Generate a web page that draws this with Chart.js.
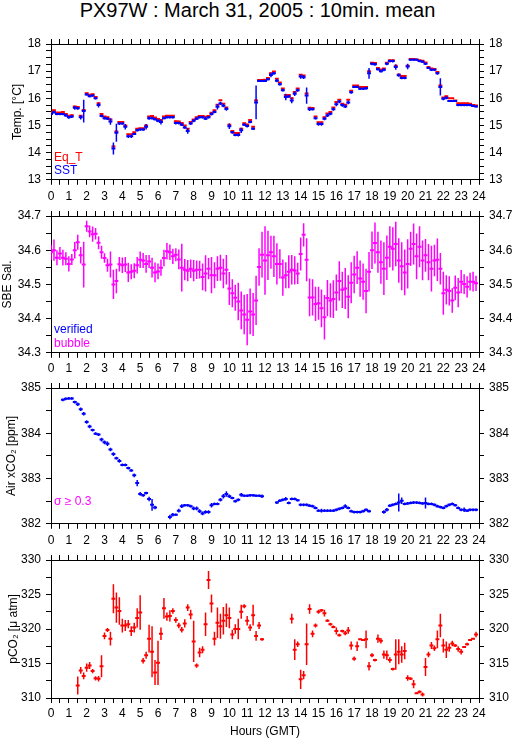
<!DOCTYPE html>
<html>
<head>
<meta charset="utf-8">
<script src="https://cdn.jsdelivr.net/npm/chart.js@4.4.1/dist/chart.umd.min.js"></script>
<style>
	body { margin: 0; background: #fff; width: 515px; height: 739px; position: relative; overflow: hidden; font-family: "Liberation Sans", Arial, sans-serif; }
	#title { position: absolute; left: 0; top: -2px; width: 515px; text-align: center; font-size: 20px; line-height: 24px; color: #000; }
	canvas { position: absolute; left: 0; }
</style>
</head>
<body>
<div id="title">PX97W : March 31, 2005 : 10min. mean</div>
<canvas id="c-temp" width="515" height="192" style="top:0px"></canvas>
<canvas id="c-sal" width="515" height="179" style="top:186px"></canvas>
<canvas id="c-air" width="515" height="178" style="top:358px"></canvas>
<canvas id="c-pco2" width="515" height="209" style="top:530px"></canvas>
<script>
'use strict';

// 10 minute bins, one row per hour
var hours = [];
for (var k = 0; k < 144; k++) { hours.push(k / 6); }

var sst = [
	15.42, 15.49, 15.42, 15.42, 15.42, 15.37,
	15.30, 15.33, 15.65, 15.63, 15.30, 15.53,
	16.14, 16.08, 16.10, 16.00, 15.75, 15.35,
	15.27, 15.25, 15.15, 14.15, 14.73, 15.07,
	15.07, 14.95, 14.60, 14.60, 14.69, 14.82,
	14.85, 14.85, 14.95, 15.27, 15.27, 15.23,
	15.17, 15.13, 15.27, 15.30, 15.30, 15.30,
	15.09, 15.09, 15.03, 14.93, 14.80, 15.07,
	15.17, 15.25, 15.30, 15.30, 15.25, 15.30,
	15.42, 15.50, 15.69, 15.81, 15.73, 15.61,
	14.97, 14.75, 14.65, 14.65, 14.82, 15.03,
	14.98, 15.13, 14.88, 15.85, 16.64, 16.64,
	16.64, 16.70, 16.86, 16.92, 16.65, 16.52,
	16.30, 16.05, 16.07, 15.92, 16.17, 16.30,
	16.80, 16.78, 16.10, 15.60, 15.60, 15.27,
	15.05, 15.05, 15.25, 15.37, 15.43, 15.60,
	15.78, 15.88, 15.75, 15.70, 15.85, 16.22,
	16.42, 16.42, 16.35, 16.35, 16.37, 16.92,
	17.27, 17.25, 17.07, 17.00, 17.05, 17.27,
	17.37, 17.37, 17.15, 16.85, 16.75, 16.75,
	17.17, 17.42, 17.42, 17.42, 17.37, 17.35,
	17.27, 17.12, 17.05, 17.05, 16.92, 16.42,
	15.98, 16.02, 15.90, 15.90, 15.90, 15.75,
	15.75, 15.75, 15.75, 15.75, 15.72, 15.70
];
var sstSd = [
	0.05, 0.05, 0.04, 0.04, 0.04, 0.05,
	0.05, 0.05, 0.07, 0.05, 0.08, 0.42,
	0.04, 0.04, 0.04, 0.04, 0.09, 0.05,
	0.05, 0.05, 0.12, 0.22, 0.33, 0.05,
	0.04, 0.10, 0.06, 0.06, 0.04, 0.04,
	0.04, 0.04, 0.10, 0.06, 0.05, 0.05,
	0.05, 0.09, 0.04, 0.04, 0.04, 0.04,
	0.05, 0.05, 0.05, 0.05, 0.10, 0.05,
	0.05, 0.05, 0.04, 0.04, 0.05, 0.04,
	0.05, 0.05, 0.10, 0.06, 0.06, 0.07,
	0.10, 0.05, 0.05, 0.06, 0.10, 0.05,
	0.05, 0.05, 0.05, 0.62, 0.04, 0.04,
	0.04, 0.04, 0.08, 0.05, 0.06, 0.05,
	0.05, 0.12, 0.05, 0.10, 0.08, 0.06,
	0.08, 0.07, 0.30, 0.07, 0.05, 0.05,
	0.06, 0.06, 0.06, 0.06, 0.05, 0.06,
	0.07, 0.06, 0.06, 0.06, 0.07, 0.05,
	0.04, 0.04, 0.04, 0.04, 0.05, 0.20,
	0.05, 0.05, 0.05, 0.05, 0.05, 0.05,
	0.05, 0.05, 0.10, 0.06, 0.05, 0.05,
	0.10, 0.04, 0.04, 0.04, 0.04, 0.04,
	0.04, 0.04, 0.04, 0.04, 0.05, 0.32,
	0.05, 0.05, 0.04, 0.04, 0.04, 0.04,
	0.04, 0.04, 0.04, 0.04, 0.04, 0.04
];
var eqT = [
	15.49, 15.56, 15.48, 15.48, 15.50, 15.42,
	15.36, 15.38, 15.70, 15.68, 15.36, 15.57,
	16.19, 16.13, 16.15, 16.05, 15.82, 15.42,
	15.33, 15.30, 15.22, 14.23, 14.78, 15.13,
	15.13, 15.00, 14.68, 14.68, 14.75, 14.88,
	14.90, 14.90, 15.00, 15.33, 15.35, 15.29,
	15.24, 15.20, 15.33, 15.36, 15.36, 15.36,
	15.16, 15.15, 15.09, 15.00, 14.88, 15.13,
	15.22, 15.30, 15.35, 15.35, 15.32, 15.35,
	15.47, 15.56, 15.76, 15.93, 15.80, 15.66,
	15.03, 14.80, 14.72, 14.72, 14.88, 15.08,
	15.04, 15.20, 14.95, 15.92, 16.67, 16.67,
	16.68, 16.75, 16.92, 16.99, 16.72, 16.58,
	16.36, 16.12, 16.12, 16.00, 16.23, 16.36,
	16.87, 16.84, 16.18, 15.65, 15.64, 15.33,
	15.12, 15.12, 15.30, 15.44, 15.50, 15.66,
	15.86, 15.95, 15.80, 15.76, 15.95, 16.28,
	16.47, 16.47, 16.42, 16.42, 16.42, 17.00,
	17.31, 17.30, 17.12, 17.06, 17.10, 17.31,
	17.40, 17.40, 17.20, 16.88, 16.82, 16.82,
	17.20, 17.45, 17.45, 17.43, 17.40, 17.38,
	17.32, 17.15, 17.10, 17.08, 16.97, 16.47,
	16.03, 16.08, 16.00, 16.00, 15.92, 15.82,
	15.82, 15.82, 15.82, 15.80, 15.75, 15.74
];
var eqTSd = [
	0.02, 0.02, 0.02, 0.02, 0.02, 0.02,
	0.02, 0.02, 0.03, 0.02, 0.03, 0.04,
	0.02, 0.02, 0.02, 0.02, 0.03, 0.02,
	0.02, 0.02, 0.03, 0.05, 0.05, 0.02,
	0.02, 0.03, 0.02, 0.02, 0.02, 0.02,
	0.02, 0.02, 0.03, 0.02, 0.02, 0.02,
	0.02, 0.02, 0.02, 0.02, 0.02, 0.02,
	0.02, 0.02, 0.02, 0.02, 0.03, 0.02,
	0.02, 0.02, 0.02, 0.02, 0.02, 0.02,
	0.02, 0.02, 0.03, 0.02, 0.02, 0.02,
	0.03, 0.02, 0.02, 0.02, 0.02, 0.02,
	0.02, 0.02, 0.02, 0.04, 0.02, 0.02,
	0.02, 0.02, 0.02, 0.02, 0.02, 0.02,
	0.02, 0.03, 0.02, 0.03, 0.02, 0.02,
	0.02, 0.02, 0.04, 0.02, 0.02, 0.02,
	0.02, 0.02, 0.02, 0.02, 0.02, 0.02,
	0.02, 0.02, 0.02, 0.02, 0.02, 0.02,
	0.02, 0.02, 0.02, 0.02, 0.02, 0.04,
	0.02, 0.02, 0.02, 0.02, 0.02, 0.02,
	0.02, 0.02, 0.03, 0.02, 0.02, 0.02,
	0.03, 0.02, 0.02, 0.02, 0.02, 0.02,
	0.02, 0.02, 0.02, 0.02, 0.02, 0.04,
	0.02, 0.02, 0.02, 0.02, 0.02, 0.02,
	0.02, 0.02, 0.02, 0.02, 0.02, 0.02
];

var sal = [
	34.594, 34.600, 34.578, 34.590, 34.578, 34.575,
	34.560, 34.573, 34.600, 34.623, 34.585, 34.558,
	34.670, 34.655, 34.647, 34.648, 34.622, 34.594,
	34.577, 34.556, 34.558, 34.500, 34.510, 34.559,
	34.556, 34.558, 34.535, 34.537, 34.540, 34.556,
	34.572, 34.570, 34.560, 34.567, 34.549, 34.535,
	34.538, 34.549, 34.577, 34.597, 34.594, 34.582,
	34.587, 34.573, 34.549, 34.543, 34.540, 34.546,
	34.540, 34.543, 34.543, 34.522, 34.532, 34.546,
	34.527, 34.527, 34.546, 34.549, 34.532, 34.543,
	34.488, 34.474, 34.461, 34.450, 34.424, 34.412,
	34.397, 34.421, 34.412, 34.453, 34.551, 34.587,
	34.570, 34.585, 34.594, 34.582, 34.560, 34.560,
	34.520, 34.527, 34.537, 34.543, 34.541, 34.532,
	34.589, 34.645, 34.572, 34.462, 34.462, 34.443,
	34.445, 34.430, 34.404, 34.460, 34.453, 34.457,
	34.476, 34.510, 34.484, 34.488, 34.464, 34.505,
	34.529, 34.549, 34.517, 34.508, 34.481, 34.537,
	34.600, 34.621, 34.594, 34.565, 34.546, 34.578,
	34.610, 34.604, 34.618, 34.570, 34.553, 34.535,
	34.560, 34.604, 34.618, 34.582, 34.610, 34.570,
	34.585, 34.565, 34.546, 34.570, 34.572, 34.546,
	34.474, 34.484, 34.481, 34.453, 34.490, 34.476,
	34.508, 34.501, 34.493, 34.508, 34.508, 34.503
];
var salSd = [
	0.022, 0.031, 0.022, 0.019, 0.023, 0.019,
	0.022, 0.016, 0.024, 0.022, 0.024, 0.067,
	0.016, 0.017, 0.022, 0.017, 0.019, 0.019,
	0.014, 0.019, 0.038, 0.043, 0.036, 0.021,
	0.023, 0.022, 0.028, 0.022, 0.022, 0.024,
	0.024, 0.022, 0.026, 0.019, 0.029, 0.029,
	0.023, 0.024, 0.024, 0.024, 0.023, 0.022,
	0.019, 0.029, 0.070, 0.031, 0.031, 0.027,
	0.031, 0.027, 0.026, 0.039, 0.053, 0.031,
	0.053, 0.038, 0.036, 0.038, 0.043, 0.043,
	0.048, 0.041, 0.038, 0.055, 0.055, 0.058,
	0.075, 0.067, 0.063, 0.072, 0.055, 0.067,
	0.100, 0.072, 0.048, 0.060, 0.060, 0.043,
	0.053, 0.038, 0.048, 0.043, 0.041, 0.031,
	0.048, 0.034, 0.063, 0.055, 0.053, 0.050,
	0.048, 0.055, 0.065, 0.053, 0.050, 0.055,
	0.053, 0.058, 0.053, 0.060, 0.063, 0.060,
	0.055, 0.048, 0.053, 0.053, 0.065, 0.058,
	0.055, 0.060, 0.060, 0.063, 0.077, 0.065,
	0.060, 0.063, 0.065, 0.065, 0.070, 0.067,
	0.072, 0.050, 0.060, 0.067, 0.060, 0.058,
	0.048, 0.053, 0.067, 0.046, 0.062, 0.046,
	0.063, 0.043, 0.043, 0.036, 0.036, 0.043,
	0.034, 0.029, 0.031, 0.026, 0.029, 0.022
];

var airCo2 = [
	null, null, null, null, 384.74, 384.76,
	384.77, 384.77, 384.69, 384.64, 384.53, 384.43,
	384.25, 384.15, 384.07, 383.99, 383.97, 383.86,
	383.80, 383.77, 383.64, 383.54, 383.45, 383.39,
	383.30, 383.30, 383.23, 383.18, 383.07, 382.90,
	382.66, 382.63, 382.68, 382.55, 382.42, 382.36,
	null, null, null, null, 382.15, 382.20,
	382.20, 382.29, 382.39, 382.41, 382.41, 382.39,
	382.34, 382.34, 382.28, 382.23, 382.26, 382.26,
	382.41, 382.44, 382.44, 382.53, 382.61, 382.66,
	382.61, 382.57, 382.50, 382.53, 382.64, 382.62,
	382.62, 382.63, 382.63, 382.62, 382.62, 382.61,
	null, null, null, null, 382.47, 382.51,
	382.53, 382.55, 382.46, 382.55, 382.55, 382.52,
	382.42, 382.42, 382.42, 382.40, 382.39, 382.35,
	382.29, 382.29, 382.29, 382.29, 382.29, 382.29,
	382.31, 382.33, 382.35, 382.39, 382.35, 382.28,
	382.26, 382.26, 382.26, 382.28, 382.31, 382.28,
	null, null, null, null, 382.26, 382.31,
	382.40, 382.42, 382.44, 382.47, 382.51, 382.44,
	382.45, 382.46, 382.47, 382.47, 382.46, 382.45,
	382.46, 382.44, 382.44, 382.42, 382.39, 382.37,
	382.35, 382.39, 382.42, 382.44, 382.41, 382.35,
	382.31, 382.31, 382.29, 382.31, 382.31, 382.31
];
var airCo2Sd = [
	0, 0, 0, 0, 0.03, 0.03,
	0.03, 0.03, 0.03, 0.04, 0.04, 0.04,
	0.04, 0.04, 0.03, 0.03, 0.03, 0.04,
	0.04, 0.05, 0.04, 0.04, 0.03, 0.04,
	0.03, 0.03, 0.03, 0.03, 0.04, 0.07,
	0.04, 0.03, 0.03, 0.05, 0.13, 0.04,
	0, 0, 0, 0, 0.05, 0.04,
	0.03, 0.04, 0.04, 0.03, 0.03, 0.03,
	0.04, 0.04, 0.04, 0.04, 0.04, 0.04,
	0.05, 0.03, 0.03, 0.04, 0.05, 0.06,
	0.04, 0.03, 0.03, 0.03, 0.04, 0.03,
	0.03, 0.03, 0.03, 0.03, 0.03, 0.04,
	0, 0, 0, 0, 0.03, 0.03,
	0.03, 0.04, 0.03, 0.03, 0.03, 0.03,
	0.03, 0.03, 0.03, 0.03, 0.03, 0.03,
	0.03, 0.04, 0.03, 0.03, 0.03, 0.03,
	0.03, 0.03, 0.03, 0.04, 0.03, 0.03,
	0.03, 0.03, 0.03, 0.03, 0.03, 0.03,
	0, 0, 0, 0, 0.04, 0.04,
	0.03, 0.03, 0.03, 0.20, 0.07, 0.03,
	0.03, 0.03, 0.03, 0.03, 0.03, 0.03,
	0.12, 0.03, 0.03, 0.03, 0.03, 0.03,
	0.03, 0.03, 0.03, 0.03, 0.03, 0.03,
	0.03, 0.05, 0.03, 0.03, 0.03, 0.03
];

var pco2 = [
	null, null, null, null, null, null,
	null, null, null, 311.8, 314.0, 313.2,
	314.4, 314.7, 313.9, 312.85, 312.8, 314.6,
	319.0, 319.86, 318.6, 324.4, 323.1, 322.6,
	320.5, 320.5, 320.7, 319.7, 320.2, 321.6,
	322.4, 315.4, 316.2, 318.6, 316.7, 313.7,
	315.1, 319.3, 323.0, 321.8, 321.9, 322.6,
	321.3, 320.5, 319.9, 320.8, 323.1, 322.1,
	318.2, 314.7, 316.6, 317.0, 320.7, 327.1,
	323.7, 318.6, 320.9, 320.4, 321.2, 322.0,
	321.6, 319.2, 320.0, 320.0, 322.5, 323.3,
	321.2, 320.2, 322.0, 319.0, 320.5, 318.5,
	null, null, null, null, null, null,
	null, null, null, 321.5, 317.0, 317.8,
	312.7, 313.3, 317.8, 322.9, 319.3, 320.5,
	322.5, 322.7, 322.3, 321.2, 320.7, 320.3,
	319.7, 319.1, 319.7, 319.4, 319.8, 317.6,
	315.7, 317.5, 318.5, 318.4, 318.5, 314.6,
	316.2, 315.5, 318.6, 318.3, 316.3, 316.2,
	315.5, 314.2, 316.3, 316.7, 316.3, 316.8,
	312.9, 312.8, 312.0, 310.7, 310.9, 310.5,
	314.5, 316.3, 317.6, 317.2, 318.5, 320.5,
	317.6, 317.0, 317.3, 317.9, 317.6, 317.1,
	316.7, 317.4, 317.8, 318.4, 318.6, 319.2
];
var pco2Sd = [
	0, 0, 0, 0, 0, 0,
	0, 0, 0, 1.3, 0.5, 0.5,
	0.6, 0.5, 0.3, 0.3, 0.4, 1.6,
	0.5, 0.3, 1.0, 2.1, 2.2, 2.0,
	1.0, 0.8, 0.6, 0.7, 0.7, 1.4,
	2.5, 0.4, 0.5, 2.0, 3.7, 1.8,
	3.2, 0.9, 1.5, 0.6, 0.8, 0.4,
	0.4, 0.4, 0.4, 0.6, 0.5, 0.7,
	3.0, 0.3, 0.7, 0.5, 1.7, 1.3,
	1.3, 1.0, 2.2, 1.8, 2.0, 1.7,
	1.5, 0.7, 0.7, 1.5, 1.0, 0.3,
	0.7, 0.5, 1.5, 0.7, 0.5, 0.2,
	0, 0, 0, 0, 0, 0,
	0, 0, 0, 0.7, 1.5, 0.4,
	1.4, 0.6, 3.0, 0.7, 0.5, 0.3,
	0.3, 0.2, 0.5, 0.2, 0.2, 0.2,
	0.5, 0.2, 0.2, 0.3, 0.5, 0.6,
	0.3, 0.7, 0.1, 0.1, 1.3, 0.6,
	0.3, 0.2, 0.6, 0.4, 0.6, 0.7,
	0.4, 0.2, 2.2, 1.8, 1.2, 1.2,
	0.4, 0.2, 0.6, 0.1, 0.2, 0.3,
	1.3, 0.4, 0.5, 0.4, 1.3, 1.7,
	1.0, 1.2, 0.6, 0.4, 0.2, 0.4,
	0.4, 0.1, 0.2, 0.1, 0.1, 0.4
];

var BLUE = '#0000ff';
var RED = '#ff0000';
var MAGENTA = '#ff00ff';
var FONT = '"Liberation Sans", Arial, sans-serif';

// one cross per 10 min mean: horizontal bar = bin, vertical bar = +/- std dev
function crossDatasets(values, sds, color, order) {
	var half = 0.11;
	var hLine = [];
	var vLine = [];
	values.forEach(function(y, i) {
		if (y === null) {
			return;
		}
		var x = hours[i];
		var sd = sds[i] || 0;
		hLine.push({ x: x - half, y: y }, { x: x + half, y: y }, { x: x, y: null });
		vLine.push({ x: x, y: y - sd }, { x: x, y: y + sd }, { x: x, y: null });
	});
	return [
		{ data: hLine, borderColor: color, borderWidth: 2, order: order || 0 },
		{ data: vLine, borderColor: color, borderWidth: 1.5, order: order || 0 }
	];
}

function isMajor(v, major) {
	return Math.abs(v / major - Math.round(v / major)) < 1e-6;
}

var gridOpts = { drawOnChartArea: false, drawTicks: true, tickLength: 5, color: '#000', lineWidth: 1 };
var borderOpts = { display: true, color: '#000', width: 1 };
var tickFont = { family: FONT, size: 12 };

function xAxis(position, showLabels, height, title) {
	return {
		type: 'linear',
		position: position,
		min: 0,
		max: 24,
		grid: gridOpts,
		border: borderOpts,
		title: title || { display: false },
		ticks: {
			stepSize: 0.5,
			autoSkip: false,
			maxRotation: 0,
			padding: position === 'top' ? 7 : 3,
			color: '#000',
			font: tickFont,
			callback: function(v) {
				return showLabels && isMajor(v, 1) ? String(Math.round(v)) : '';
			}
		},
		afterFit: function(scale) { scale.height = height; }
	};
}

function yAxis(position, p) {
	return {
		type: 'linear',
		position: position,
		min: p.min,
		max: p.max,
		grid: gridOpts,
		border: borderOpts,
		title: position === 'left' ?
			{ display: true, text: p.title, color: '#000', font: { family: FONT, size: 12 }, padding: { top: p.titlePad, bottom: 0 } } :
			{ display: false },
		ticks: {
			stepSize: p.step,
			autoSkip: false,
			padding: 5,
			color: '#000',
			font: tickFont,
			callback: function(v) {
				return isMajor(v, p.major) ? v.toFixed(p.digits) : '';
			}
		},
		afterFit: function(scale) { scale.width = position === 'left' ? 51 : 36; }
	};
}

// coloured notes in the lower left corner of a panel
var cornerText = {
	id: 'cornerText',
	afterDatasetsDraw: function(chart, args, opts) {
		var ctx = chart.ctx;
		var area = chart.chartArea;
		ctx.save();
		ctx.font = '12px ' + FONT;
		ctx.textBaseline = 'middle';
		(opts.items || []).forEach(function(item) {
			ctx.fillStyle = item.color;
			ctx.fillText(item.text, area.left + 3, area.bottom - item.up);
		});
		ctx.restore();
	}
};

function renderPanel(id, datasets, p) {
	var bottomTitle = p.bottomTitle ?
		{ display: true, text: p.bottomTitle, color: '#000', font: { family: FONT, size: 12 }, padding: { top: 0, bottom: 0 } } :
		null;
	return new Chart(document.getElementById(id), {
		type: 'line',
		data: { datasets: datasets },
		options: {
			responsive: false,
			animation: false,
			devicePixelRatio: 1,
			layout: { padding: 0 },
			elements: { point: { radius: 0 }, line: { tension: 0 } },
			plugins: {
				legend: { display: false },
				tooltip: { enabled: false },
				cornerText: { items: p.notes }
			},
			scales: {
				x: xAxis('bottom', p.bottomLabels, p.bottomH, bottomTitle),
				x2: xAxis('top', p.topLabels, p.topH),
				y: yAxis('left', p),
				y2: yAxis('right', p)
			}
		},
		plugins: [ cornerText ]
	});
}

// SST drawn over Eq_T
renderPanel('c-temp', crossDatasets(sst, sstSd, BLUE, 0).concat(crossDatasets(eqT, eqTSd, RED, 1)), {
	min: 13, max: 18, step: 0.25, major: 1, digits: 0,
	title: 'Temp. [°C]', titlePad: 10,
	topLabels: false, topH: 44, bottomLabels: false, bottomH: 10,
	notes: [ { text: 'Eq_T', color: RED, up: 22 }, { text: 'SST', color: BLUE, up: 9 } ]
});

renderPanel('c-sal', crossDatasets(sal, salSd, MAGENTA), {
	min: 34.3, max: 34.7, step: 0.05, major: 0.1, digits: 1,
	title: 'SBE Sal.', titlePad: 0,
	topLabels: true, topH: 30, bottomLabels: false, bottomH: 10,
	notes: [ { text: 'verified', color: BLUE, up: 23 }, { text: 'bubble', color: MAGENTA, up: 9 } ]
});

renderPanel('c-air', crossDatasets(airCo2, airCo2Sd, BLUE), {
	min: 382, max: 385, step: 0.5, major: 1, digits: 0,
	title: 'Air xCO₂ [ppm]', titlePad: 4,
	topLabels: true, topH: 30, bottomLabels: false, bottomH: 10,
	notes: [ { text: 'σ ≥ 0.3', color: MAGENTA, up: 22 } ]
});

renderPanel('c-pco2', crossDatasets(pco2, pco2Sd, RED), {
	min: 310, max: 330, step: 2.5, major: 5, digits: 0,
	title: 'pCO₂ [μ atm]', titlePad: 6,
	topLabels: true, topH: 30, bottomLabels: true, bottomH: 41,
	bottomTitle: 'Hours (GMT)',
	notes: []
});
</script>
</body>
</html>
